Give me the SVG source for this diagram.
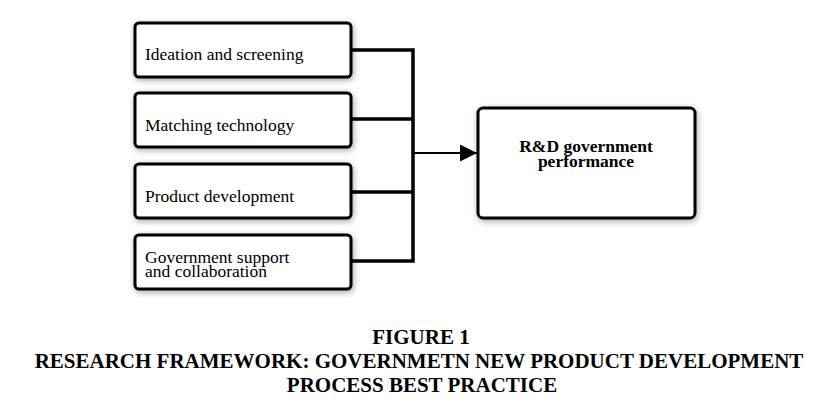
<svg xmlns="http://www.w3.org/2000/svg" width="822" height="409" viewBox="0 0 822 409">
<style>
.box{fill:#fff;stroke:#000;stroke-width:3;filter:url(#sh)}
.t{font-family:"Liberation Serif","Times New Roman",serif;font-size:17.5px;fill:#000}
.b{font-family:"Liberation Serif","Times New Roman",serif;font-size:17.5px;font-weight:bold;fill:#000}
.cap{font-family:"Liberation Serif","Times New Roman",serif;font-size:21px;font-weight:bold;fill:#000;text-anchor:middle}
.ln{fill:none;stroke:#000;stroke-width:3.5}
</style>
<defs>
<filter id="sh" x="-20%" y="-30%" width="140%" height="160%">
<feGaussianBlur in="SourceAlpha" stdDeviation="3"/>
<feOffset dx="1" dy="2" result="o"/>
<feComponentTransfer><feFuncA type="linear" slope="0.35"/></feComponentTransfer>
<feMerge><feMergeNode/><feMergeNode in="SourceGraphic"/></feMerge>
</filter>
<marker id="ah" viewBox="0 0 10 10" refX="10" refY="5" markerWidth="8.5" markerHeight="8.5" markerUnits="strokeWidth" orient="auto" preserveAspectRatio="none">
<path d="M0,0 L10,5 L0,10 Z" fill="#000"/>
</marker>
</defs>
<g id="n1"><rect class="box" x="135" y="23" width="216" height="54" rx="4"/><text class="t" x="145" y="60">Ideation and screening</text></g>
<g id="n2"><rect class="box" x="135" y="93" width="216" height="54" rx="4"/><text class="t" x="145" y="131">Matching technology</text></g>
<g id="n3"><rect class="box" x="135" y="164" width="216" height="54" rx="4"/><text class="t" x="145" y="202">Product development</text></g>
<g id="n4"><rect class="box" x="135" y="235" width="216" height="54" rx="4"/><text class="t" x="145" y="263">Government support</text><text class="t" x="145" y="277">and collaboration</text></g>
<g id="n5"><rect class="box" x="478" y="108" width="217" height="110" rx="5"/><text class="b" x="586" y="152" text-anchor="middle">R&amp;D government</text><text class="b" x="586" y="167" text-anchor="middle">performance</text></g>
<g id="connectors">
<path class="ln" d="M351,50 H413 V261 H351 M351,119 H413 M351,192 H413"/>
<line x1="413" y1="153" x2="477" y2="153" stroke="#000" stroke-width="2" marker-end="url(#ah)"/>
</g>
<g id="caption">
<text class="cap" x="421" y="344">FIGURE 1</text>
<text class="cap" x="419" y="368">RESEARCH FRAMEWORK: GOVERNMETN NEW PRODUCT DEVELOPMENT</text>
<text class="cap" x="422" y="392">PROCESS BEST PRACTICE</text>
</g>
</svg>
